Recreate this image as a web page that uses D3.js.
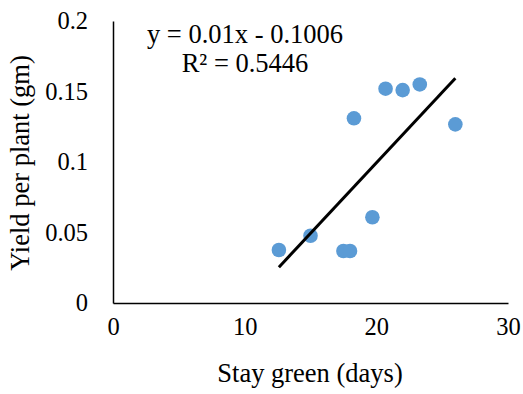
<!DOCTYPE html>
<html>
<head>
<meta charset="utf-8">
<script src="https://cdn.jsdelivr.net/npm/d3@7"></script>
<style>
  body { margin: 0; background: #fff; }
  text { font-family: "Liberation Serif", "Times New Roman", serif; fill: #000; }
</style>
</head>
<body>
<svg width="523" height="394"></svg>
<script>
// data
var stayGreen = [12.6, 15.0, 17.5, 18.0, 19.7, 18.3, 20.7, 22.0, 23.3, 26.0];
var yieldPerPlant = [0.0376, 0.0477, 0.0369, 0.0369, 0.0608, 0.131, 0.152, 0.151, 0.155, 0.1267];
var xTicks = [0, 10, 20, 30];
var yTicks = [0, 0.05, 0.1, 0.15, 0.2];
var slope = 0.01, intercept = -0.1006, rSquared = 0.5446;

function drawChart() {
    var svg = d3.select('svg');
    var mLeft = 113, mRight = 508, mTop = 21, mBottom = 303;
    var labelSize = '26.5px';

    var x = d3.scaleLinear().domain([0, 30]).range([mLeft, mRight]);
    var y = d3.scaleLinear().domain([0, 0.2]).range([mBottom, mTop]);

    // axes: lines and labels only, no tick marks
    var xAxis = svg.append('g').attr('transform', 'translate(0,' + mBottom + ')')
        .call(d3.axisBottom(x).tickValues(xTicks).tickSize(0).tickPadding(15).tickFormat(d3.format('d')));
    var yAxis = svg.append('g').attr('transform', 'translate(' + mLeft + ',0)')
        .call(d3.axisLeft(y).tickValues(yTicks).tickSize(0).tickPadding(25).tickFormat(d => String(d)));

    [xAxis, yAxis].forEach(function(a) {
        a.attr('font-family', null).attr('font-size', null);
        a.select('.domain').attr('stroke', '#000').attr('stroke-width', 1.5);
        a.selectAll('text').style('font-size', '24.5px');
    });

    // points
    svg.append('g').selectAll('circle')
        .data(stayGreen.map((d, i) => [d, yieldPerPlant[i]]))
        .enter().append('circle')
        .attr('cx', d => x(d[0]))
        .attr('cy', d => y(d[1]))
        .attr('r', 7.3)
        .attr('fill', '#5B9BD5');

    // linear trendline over the data range
    var x0 = d3.min(stayGreen), x1 = d3.max(stayGreen);
    svg.append('line')
        .attr('x1', x(x0)).attr('y1', y(slope * x0 + intercept))
        .attr('x2', x(x1)).attr('y2', y(slope * x1 + intercept))
        .attr('stroke', '#000').attr('stroke-width', 3);

    // equation
    svg.append('text').attr('x', 245).attr('y', 43).attr('text-anchor', 'middle')
        .style('font-size', labelSize).text('y = ' + slope + 'x - ' + Math.abs(intercept));
    svg.append('text').attr('x', 245).attr('y', 72).attr('text-anchor', 'middle')
        .style('font-size', labelSize).text('R² = ' + rSquared);

    // axis titles
    svg.append('text').attr('x', 310).attr('y', 382).attr('text-anchor', 'middle')
        .style('font-size', labelSize).text('Stay green (days)');
    svg.append('text').attr('transform', 'translate(29,163) rotate(-90)').attr('text-anchor', 'middle')
        .style('font-size', labelSize).text('Yield per plant (gm)');
}

drawChart();
</script>
</body>
</html>
